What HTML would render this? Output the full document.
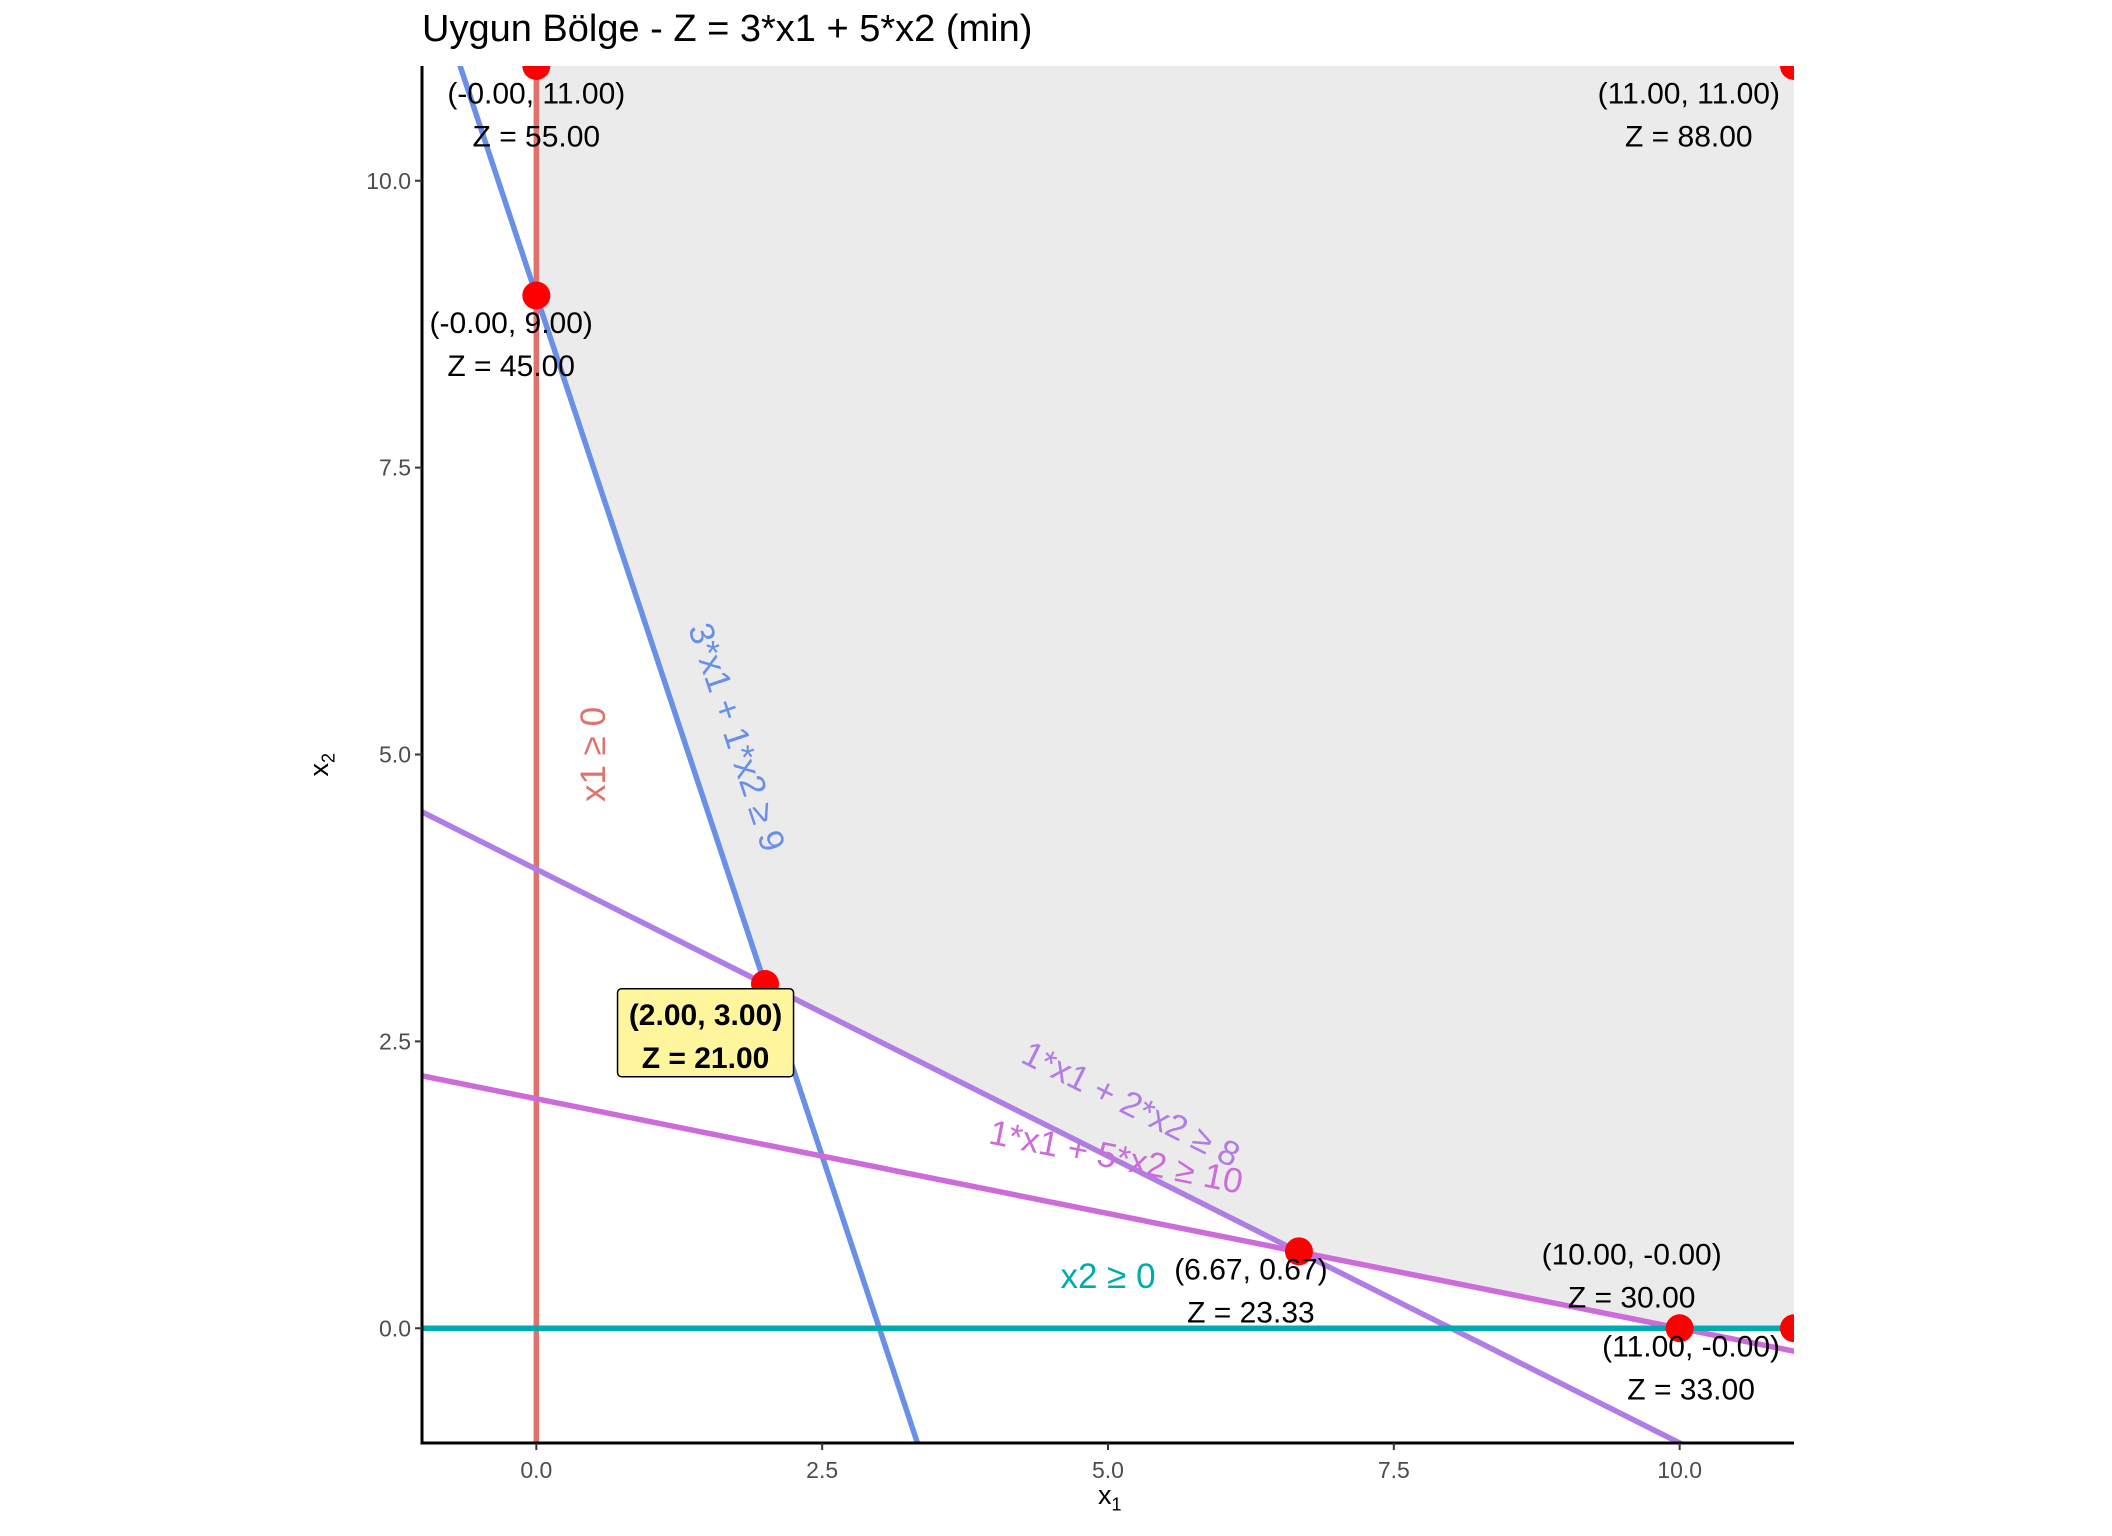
<!DOCTYPE html>
<html><head><meta charset="utf-8"><style>
html,body{margin:0;background:#fff;width:2112px;height:1536px;overflow:hidden;position:relative;}
svg{display:block;font-family:"Liberation Sans",sans-serif;overflow:hidden;}
</style></head><body>
<svg id="chart" width="2112" height="1536" viewBox="0 0 2112 1536">
<g id="g"></g>
</svg>
<script>
// Data
const xDomain = [-1, 11];
const yDomain = [-1, 11];
const xTicks = [0, 2.5, 5, 7.5, 10];
const yTicks = [0, 2.5, 5, 7.5, 10];
const tickLabels = ["0.0", "2.5", "5.0", "7.5", "10.0"];
const regionX = [0, 0, 2, 6.6667, 10, 11, 11];
const regionY = [11, 9, 3, 0.6667, 0, 0, 11];
// constraints a*x1 + b*x2 = c
const consA = [1, 0, 3, 1, 1];
const consB = [0, 1, 1, 2, 5];
const consC = [0, 0, 9, 8, 10];
const consNames = ["x1 ≥ 0", "x2 ≥ 0", "3*x1 + 1*x2 ≥ 9", "1*x1 + 2*x2 ≥ 8", "1*x1 + 5*x2 ≥ 10"];
const consColors = ["#e0716b", "#00abaf", "#6a8fe6", "#b07ce6", "#cc6bd9"];
const labelAt = [[0.5, 5], [5, 0.45], [1.75, 5.15], [5.2, 1.95], [5.07, 1.49]];
const ptX = [0, 0, 2, 6.67, 10, 11, 11];
const ptY = [11, 9, 3, 0.67, 0, 0, 11];
const ptZ = [55, 45, 21, 23.33, 30, 33, 88];
const ptLabelDx = [0, -0.22, -0.52, -0.42, -0.42, -0.9, -0.92];
const ptLabelDy = [-0.43, -0.43, -0.46, -0.35, 0.45, -0.35, -0.43];
const optimalIndex = 2;

const L = 422, R = 1794, T = 66, B = 1443;
const sx = v => L + (v - xDomain[0]) / (xDomain[1] - xDomain[0]) * (R - L);
const sy = v => B - (v - yDomain[0]) / (yDomain[1] - yDomain[0]) * (B - T);
const NS = "http://www.w3.org/2000/svg";
const g = document.getElementById('g');
function mk(tag, attrs, parent) {
  const e = document.createElementNS(NS, tag);
  for (const k in attrs) e.setAttribute(k, attrs[k]);
  (parent || g).appendChild(e);
  return e;
}
const defs = mk('defs', {});
const cp = mk('clipPath', {id: 'clip'}, defs);
mk('rect', {x: L, y: T, width: R - L, height: B - T}, cp);

const poly = mk('polygon', {points: regionX.map((x, i) => sx(x) + ',' + sy(regionY[i])).join(' '), fill: '#ebebeb'});



const lines = mk('g', {'clip-path': 'url(#clip)'});
const order = [0, 2, 3, 4, 1];
order.forEach(i => {
  let x1, y1, x2, y2;
  if (consB[i] === 0) { x1 = x2 = consC[i] / consA[i]; y1 = yDomain[0]; y2 = yDomain[1]; }
  else { x1 = xDomain[0] - 1; x2 = xDomain[1] + 1; y1 = (consC[i] - consA[i] * x1) / consB[i]; y2 = (consC[i] - consA[i] * x2) / consB[i]; }
  const ln = mk('line', {x1: sx(x1), y1: sy(y1), x2: sx(x2), y2: sy(y2), stroke: consColors[i], 'stroke-width': 5.5}, lines);
  
  
});
consNames.forEach((n, i) => {
  let ang;
  if (consB[i] === 0) ang = -90;
  else ang = Math.atan(consA[i] / consB[i]) * 180 / Math.PI;
  const cx = sx(labelAt[i][0]), cy = sy(labelAt[i][1]);
  const t = mk('text', {x: cx, y: cy, fill: consColors[i], 'font-size': 35, 'text-anchor': 'middle', 'dominant-baseline': 'central', transform: `rotate(${ang} ${cx} ${cy})`});
  t.textContent = n;
  
  
});
const pts = mk('g', {'clip-path': 'url(#clip)'});
ptX.forEach((x, i) => {
  const c = mk('circle', {cx: sx(x), cy: sy(ptY[i]), r: 14, fill: '#ff0000'}, pts);
  
  
});
ptX.forEach((x, i) => {
  const cx = sx(x + ptLabelDx[i]), cy = sy(ptY[i] + ptLabelDy[i]);
  const opt = i === optimalIndex;
  if (opt) {
    const r = mk('rect', {x: cx - 88, y: cy - 48, width: 176, height: 88, rx: 4, fill: '#fff59d', stroke: '#000', 'stroke-width': 1.5});
    
    
  }
  const t = mk('text', {x: cx, y: cy, 'font-size': 30, 'text-anchor': 'middle', fill: '#000', 'font-weight': opt ? 'bold' : 'normal'});
  const a = mk('tspan', {x: cx, y: cy - 12}, t);
  a.textContent = '(' + (x === 0 ? '-0.00' : x.toFixed(2)) + ', ' + (ptY[i] === 0 ? '-0.00' : ptY[i].toFixed(2)) + ')';
  const b = mk('tspan', {x: cx, y: cy + 31}, t);
  b.textContent = 'Z = ' + ptZ[i].toFixed(2);
  
  
});
const ax = mk('path', {d: `M${L} ${T} V${B} H${R}`, fill: 'none', stroke: '#000', 'stroke-width': 3});


xTicks.forEach((v, i) => {
  mk('line', {x1: sx(v), x2: sx(v), y1: B, y2: B + 7, stroke: '#333', 'stroke-width': 2});
  const t = mk('text', {x: sx(v), y: B + 35, 'font-size': 23, fill: '#4d4d4d', 'text-anchor': 'middle'});
  t.textContent = tickLabels[i];
  
  
});
yTicks.forEach((v, i) => {
  mk('line', {x1: L - 7, x2: L, y1: sy(v), y2: sy(v), stroke: '#333', 'stroke-width': 2});
  const t = mk('text', {x: L - 11, y: sy(v) + 8, 'font-size': 23, fill: '#4d4d4d', 'text-anchor': 'end'});
  t.textContent = tickLabels[i];
  
  
});
</script>
<div style="position:absolute;left:422px;top:8px;font:38px 'Liberation Sans',sans-serif;color:#000;white-space:nowrap">Uygun Bölge - Z = 3*x1 + 5*x2 (min)</div>
<div style="position:absolute;left:1098px;top:1480px;font:27px 'Liberation Sans',sans-serif;color:#000;line-height:30px">x<sub style="font-size:18px">1</sub></div>
<div style="position:absolute;left:312px;top:745px;font:27px 'Liberation Sans',sans-serif;color:#000;line-height:30px;transform:rotate(-90deg);transform-origin:center">x<sub style="font-size:18px">2</sub></div>
</body></html>
